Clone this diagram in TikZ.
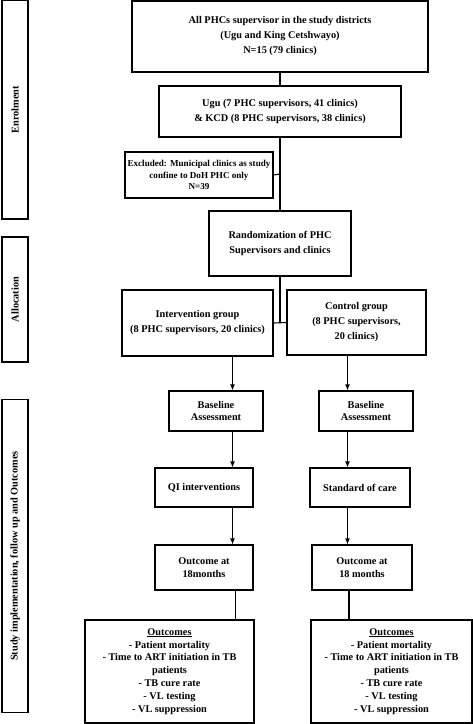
\documentclass[tikz,border=0pt]{standalone}
\usepackage{fontspec}
\setmainfont{Liberation Serif}
\usetikzlibrary{arrows.meta}
\begin{document}
\begin{tikzpicture}[x=1pt,y=-1pt,line width=1.1pt,
    box/.style={draw,align=center,inner sep=1pt,font=\bfseries\fontsize{10.3}{15}\selectfont},
    side/.style={draw,rotate=90,inner sep=1pt,minimum height=26pt,font=\bfseries\fontsize{10.3}{12}\selectfont},
    arr/.style={-{Latex[length=6pt,width=5pt]}}]
      \useasboundingbox (0,0) rectangle (473,724);
      \node[side,minimum width=219pt] (enrol) at (15,109.5) {Enrolment};
      \node[side,minimum width=125pt] (alloc) at (15,299.5) {Allocation};
      \node[side,minimum width=313pt] (study) at (15,556) {Study implementation, follow up and Outcomes};
      \node[box,minimum width=296pt,minimum height=71pt] (all) at (280,36.5) {All PHCs supervisor in the study districts\\(Ugu and King Cetshwayo)\\N=15 (79 clinics)};
      \node[box,minimum width=242pt,minimum height=51pt] (ugu) at (280,111.5) {Ugu (7 PHC supervisors, 41 clinics)\\\& KCD (8 PHC supervisors, 38 clinics)};
      \node[box,minimum width=148pt,minimum height=46pt,inner sep=0pt,font=\bfseries\fontsize{9.1}{11.5}\selectfont] (excl) at (199,175) {Excluded: Municipal clinics as study\\confine to DoH PHC only\\N=39};
      \node[box,minimum width=142pt,minimum height=65pt] (rand) at (280,243.5) {Randomization of PHC\\Supervisors and clinics};
      \node[box,minimum width=151pt,minimum height=66pt] (interv) at (197.5,323) {Intervention group\\(8 PHC supervisors, 20 clinics)};
      \node[box,minimum width=139pt,minimum height=65pt] (ctrl) at (356.5,322.5) {Control group\\(8 PHC supervisors,\\20 clinics)};
      \node[box,minimum width=94pt,minimum height=40pt,font=\bfseries\fontsize{10.3}{12.7}\selectfont] (base1) at (216,411) {Baseline\\Assessment};
      \node[box,minimum width=94pt,minimum height=40pt,font=\bfseries\fontsize{10.3}{12.7}\selectfont] (base2) at (366,411) {Baseline\\Assessment};
      \node[box,minimum width=98pt,minimum height=39pt] (qi) at (204,487.5) {QI interventions};
      \node[box,minimum width=100pt,minimum height=39pt] (soc) at (360,487.5) {Standard of care};
      \node[box,minimum width=98pt,minimum height=45pt,font=\bfseries\fontsize{10.3}{13.3}\selectfont] (out1) at (204,567.5) {Outcome at\\18months};
      \node[box,minimum width=100pt,minimum height=45pt,font=\bfseries\fontsize{10.3}{13.3}\selectfont] (out2) at (362,567.5) {Outcome at\\18 months};
      \node[box,minimum width=169pt,minimum height=103pt,font=\bfseries\fontsize{10.3}{12.9}\selectfont] (res1) at (169.5,671.5) {\underline{Outcomes}\\- Patient mortality\\- Time to ART initiation in TB\\patients\\- TB cure rate\\- VL testing\\- VL suppression};
      \node[box,minimum width=161pt,minimum height=103pt,font=\bfseries\fontsize{10.3}{12.9}\selectfont] (res2) at (391.5,671.5) {\underline{Outcomes}\\- Patient mortality\\- Time to ART initiation in TB\\patients\\- TB cure rate\\- VL testing\\- VL suppression};
      \coordinate (ex) at (280,174);
      \coordinate (split) at (280,323);
      \coordinate (la) at (232.5,0);
      \coordinate (lb) at (235.5,0);
      \coordinate (ra) at (347.5,0);
      \coordinate (rb) at (349,0);
      \draw (all.south) -- (ugu.north);
      \draw (ugu.south) -- (rand.north);
      \draw (ex) -- (excl.east);
      \draw (rand.south) -- (split);
      \draw (interv.east) -- (ctrl.west);
      \draw[arr] (interv.south -| la) -- (base1.north -| la);
      \draw[arr] (ctrl.south -| ra) -- (base2.north -| ra);
      \draw[arr] (base1.south -| la) -- (qi.north -| la);
      \draw[arr] (base2.south -| ra) -- (soc.north -| ra);
      \draw[arr] (qi.south -| la) -- (out1.north -| la);
      \draw[arr] (soc.south -| ra) -- (out2.north -| ra);
      \draw (out1.south -| lb) -- (res1.north -| lb);
      \draw (out2.south -| rb) -- (res2.north -| rb);
    \end{tikzpicture}
\end{document}
